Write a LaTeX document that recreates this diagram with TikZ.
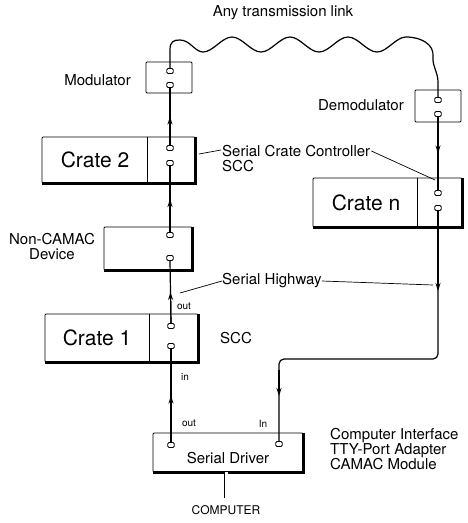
\documentclass[tikz,border=0pt]{standalone}
\usepackage{fontspec}
\setmainfont{TeX Gyre Heros}
\usetikzlibrary{arrows.meta,positioning,calc}

\tikzset{
  box/.style={draw, line width=0.9pt, inner sep=0pt, rounded corners=1pt},
  edge/.style={line width=0.9pt},
  shade/.style={line width=2.2pt},
  port/.style={draw, fill=white, line width=0.8pt, rounded corners=1.2pt,
    minimum width=6.5pt, minimum height=5pt, inner sep=0pt},
  link/.style={line width=1.2pt},
  tip/.style={link, -{Stealth[length=8pt,width=5pt]}},
  leader/.style={line width=0.7pt},
  lbl/.style={font=\fontsize{15}{15}\selectfont, inner sep=0pt},
  tiny/.style={font=\fontsize{10}{11}\selectfont, inner sep=0pt},
  cratelbl/.style={font=\fontsize{21}{24}\selectfont, inner sep=0pt}
}

\begin{document}
\begin{tikzpicture}[x=1pt,y=-1pt]
  \useasboundingbox (0,0) rectangle (467,523);

  % boxes
  \node[box, minimum width=46pt, minimum height=31pt] (mod) at (169,77.5) {};
  \node[box, minimum width=46pt, minimum height=32pt] (dem) at (438,106) {};
  \node[box, minimum width=153pt, minimum height=46pt] (cr2) at (118.5,160) {};
  \node[box, minimum width=149pt, minimum height=49pt] (crn) at (387.5,202.5) {};
  \node[box, minimum width=88pt, minimum height=43pt] (ncd) at (148,248.5) {};
  \node[box, minimum width=153pt, minimum height=48pt] (cr1) at (121.5,338) {};
  \node[box, minimum width=150pt, minimum height=39pt] (drv) at (228,452.5) {};

  % SCC dividers
  \draw[edge] ($(cr2.north west)+(106,0)$) -- ($(cr2.south west)+(106,0)$);
  \draw[edge] ($(crn.north west)+(105,0)$) -- ($(crn.south west)+(105,0)$);
  \draw[edge] ($(cr1.north west)+(105,0)$) -- ($(cr1.south west)+(105,0)$);

  % heavy bottom and right edges
  \foreach \b in {cr2,crn,ncd,cr1,drv}
    \draw[shade] (\b.north east) -- (\b.south east) -- (\b.south west);

  % ports
  \node[port] (mp1) at (170,71) {};
  \node[port] (mp2) at (170,85) {};
  \node[port] (c2p1) at (170,148) {};
  \node[port] (c2p2) at (170,163) {};
  \node[port] (np1) at (170,235) {};
  \node[port] (np2) at (170,258) {};
  \node[port] (c1p1) at (171,326) {};
  \node[port] (c1p2) at (171,346) {};
  \node[port] (dpo) at (171,445) {};
  \node[port] (dpi) at (279,444) {};
  \node[port] (dmp1) at (438,100) {};
  \node[port] (dmp2) at (438,114) {};
  \node[port] (cnp1) at (438,193) {};
  \node[port] (cnp2) at (438,208) {};

  % crate texts
  \node[cratelbl] at (95,160) {Crate 2};
  \node[cratelbl] at (366,203) {Crate n};
  \node[cratelbl] at (97,338) {Crate 1};
  \node[lbl] at (228,458) {Serial Driver};

  % transmission link
  \draw[link] (mp1.north) -- (170,50) .. controls (170,41) and (174,40) .. (180,40)
    .. controls (190,40) and (195,52) .. (203,52)
    .. controls (213,52) and (222,37) .. (232,37)
    .. controls (242,37) and (251,52) .. (261,52)
    .. controls (271,52) and (280,37) .. (290,37)
    .. controls (300,37) and (309,52) .. (319,52)
    .. controls (329,52) and (338,37) .. (348,37)
    .. controls (358,37) and (367,52) .. (377,52)
    .. controls (387,52) and (396,37) .. (406,37)
    .. controls (422,37) and (434,45) .. (433,56)
    .. controls (432,66) and (438,72) .. (438,82) -- (dmp1.north);

  % serial highway
  \draw[link] (c2p1.north) -- (mp2.south);
  \draw[link] (np1.north) -- (c2p2.south);
  \draw[link] (c1p1.north) -- (np2.south);
  \draw[link] (dpo.north) -- (c1p2.south);
  \draw[link] (dmp2.south) -- (cnp1.north);
  \draw[link, rounded corners=5pt] (cnp2.south) -- (438,359) -- (279,359) -- (dpi.north);
  \draw[tip] (c2p1.north) -- ($(c2p1.north)!.5!(mp2.south)$);
  \draw[tip] (np1.north) -- ($(np1.north)!.5!(c2p2.south)$);
  \draw[tip] (c1p1.north) -- ($(c1p1.north)!.5!(np2.south)$);
  \draw[tip] (dpo.north) -- ($(dpo.north)!.5!(c1p2.south)$);
  \draw[tip] (dmp2.south) -- ($(dmp2.south)!.5!(cnp1.north)$);
  \coordinate (rmark) at (438,291);
  \coordinate (bmark) at (279,396);
  \draw[tip] (cnp2.south) -- (rmark);
  \draw[tip] (dpi.north |- 0,370) -- (bmark);

  % computer cable
  \coordinate (cpu) at (226,498);
  \draw[double, double distance=3pt, line width=0.8pt] (cpu |- drv.south) -- (cpu);
  \node[font=\fontsize{12}{12}\selectfont, inner sep=0pt, below=7pt of cpu] (cpulbl) {COMPUTER};

  % labels
  \node[lbl] (link) at (283,13) {Any transmission link};
  \node[lbl, anchor=east] (modlbl) at (131,80) {Modulator};
  \node[lbl, anchor=east] (demlbl) at (404,105) {Demodulator};
  \node[lbl, align=center] (ncdlbl) at (52,247) {Non-CAMAC\\Device};
  \node[lbl] (scc1) at (236,338) {SCC};
  \node[lbl, anchor=north west, align=left] (scc) at (222,145) {Serial Crate Controller\\SCC};
  \node[lbl, anchor=west] (shw) at (222,281) {Serial Highway};
  \node[lbl, anchor=west, align=left] (cif) at (330,449)
    {Computer Interface\\TTY-Port Adapter\\CAMAC Module};
  \node[tiny] at (184,306) {out};
  \node[tiny] at (185,377) {in};
  \node[tiny] at (189,423) {out};
  \node[tiny] at (263,424) {In};

  % leaders
  \coordinate (scctip2) at (199,154);
  \coordinate (scctipn) at (435,180);
  \coordinate (shwtip1) at (180,293);
  \coordinate (shwtipn) at (433,285);
  \draw[leader] ($(scc.north west)+(-1,5)$) -- (scctip2);
  \draw[leader] ($(scc.north east)+(1,6)$) -- (scctipn);
  \draw[leader] (shw.west) -- (shwtip1);
  \draw[leader] (shw.east) -- (shwtipn);
\end{tikzpicture}
\end{document}
